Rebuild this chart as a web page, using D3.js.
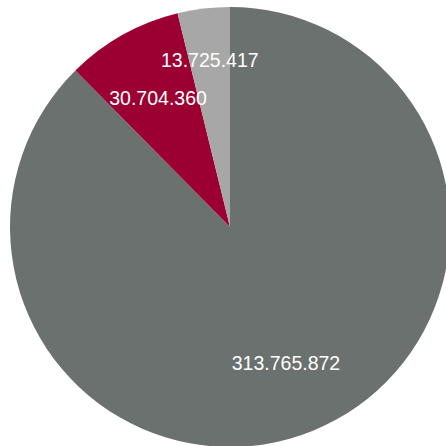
<!DOCTYPE html>
<html>
<head>
<meta charset="utf-8">
<script src="https://cdn.jsdelivr.net/npm/d3@7"></script>
<style>
  html, body { margin: 0; padding: 0; background: #ffffff; overflow: hidden; }
  svg { display: block; }
</style>
</head>
<body>
<svg id="chart" width="446" height="446"></svg>
<script>
// Slice data, drawn clockwise from 12 o'clock
const categories = ["A", "B", "C"];
const values = [313765872, 30704360, 13725417];
const colors = ["#6b716f", "#9c0032", "#a7a7a7"];

const width = 446, height = 446;
const cx = 230, cy = 227, radius = 220;

const svg = d3.select("#chart");
const g = svg.append("g").attr("transform", `translate(${cx},${cy})`);

const data = categories.map((c, i) => ({ name: c, value: values[i], color: colors[i] }));
const total = d3.sum(values);

const pie = d3.pie().value(d => d.value).sort(null).startAngle(0).endAngle(2 * Math.PI);
const arcs = pie(data);

const arc = d3.arc().innerRadius(0).outerRadius(radius);

g.selectAll("path.slice")
  .data(arcs)
  .join("path")
  .attr("class", "slice")
  .attr("d", arc)
  .attr("fill", d => d.data.color);

// Labels sit inside the slices; narrow slices push their label further out
const fmt = v => d3.format(",")(v).replace(/,/g, ".");
const labelArc = d => {
  const share = d.data.value / total;
  const r = share < 0.05 ? radius * 0.765 : radius * 0.67;
  return d3.arc().innerRadius(r).outerRadius(r).centroid(d);
};

g.selectAll("text.label")
  .data(arcs)
  .join("text")
  .attr("class", "label")
  .attr("transform", d => `translate(${labelArc(d)})`)
  .attr("text-anchor", "middle")
  .attr("dy", "0.36em")
  .attr("fill", "#ffffff")
  .style("font-family", "'Liberation Sans', Arial, Helvetica, sans-serif")
  .style("font-size", "19.5px")
  .text(d => fmt(d.data.value));
</script>
</body>
</html>
